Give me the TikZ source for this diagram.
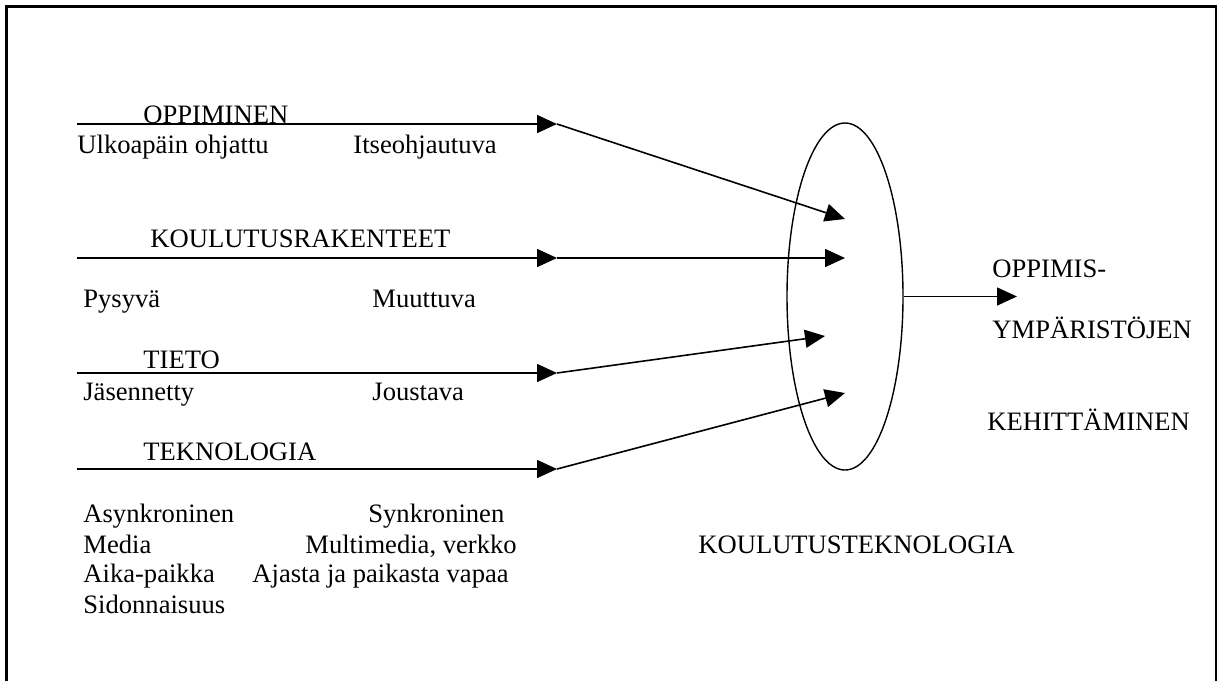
\documentclass[tikz,border=0pt]{standalone}
\usepackage{fontspec}
\setmainfont{Liberation Serif}
\usetikzlibrary{arrows.meta,shapes.geometric}
\begin{document}
\begin{tikzpicture}[x=0.5pt,y=-0.5pt,
  lbl/.style={anchor=base west,inner sep=0pt,font=\fontsize{13.3pt}{15pt}\selectfont},
  feed/.style={line width=0.8pt,-{Triangle[length=10pt,width=9pt]}},
  frameline/.style={line width=1.1pt}]
\useasboundingbox (0,0) rectangle (1220,681);
% open frame
\draw[frameline] (6.5,681) -- (6.5,6.5) -- (1216,6.5) -- (1216,681);

% central ellipse
\node[draw,ellipse,line width=0.7pt,minimum width=58pt,minimum height=173.5pt,inner sep=0pt] (kt) at (845,296.5) {};

% start and break points of the four input lines
\coordinate (s1) at (77,124);  \coordinate (m1) at (557,124);
\coordinate (s2) at (77,258);  \coordinate (m2) at (557,258);
\coordinate (s3) at (77,373);  \coordinate (m3) at (557,373);
\coordinate (s4) at (77,469);  \coordinate (m4) at (557,469);
% arrow targets inside the ellipse
\coordinate (t1) at (845,219);
\coordinate (t2) at (845,258);
\coordinate (t3) at (825,336);
\coordinate (t4) at (845,393);
\coordinate (out) at (1017,296.5);

% labels
\node[lbl] (oppiminen) at (143,123) {OPPIMINEN};
\node[lbl] (ulko) at (77,153) {Ulkoapäin ohjattu};
\node[lbl] (itse) at (353,153) {Itseohjautuva};
\node[lbl] (rak) at (150,247) {KOULUTUSRAKENTEET};
\node[lbl] (pys) at (83,307) {Pysyvä};
\node[lbl] (muu) at (372,307) {Muuttuva};
\node[lbl] (tieto) at (143,368) {TIETO};
\node[lbl] (jas) at (83,400) {Jäsennetty};
\node[lbl] (jou) at (372,400) {Joustava};
\node[lbl] (tek) at (143,460) {TEKNOLOGIA};
\node[lbl] (asy) at (83,522) {Asynkroninen};
\node[lbl] (syn) at (368,522) {Synkroninen};
\node[lbl] (med) at (83,553) {Media};
\node[lbl] (mul) at (305,553) {Multimedia, verkko};
\node[lbl] (aik) at (83,582) {Aika-paikka};
\node[lbl] (aja) at (252,582) {Ajasta ja paikasta vapaa};
\node[lbl] (sid) at (83,613) {Sidonnaisuus};
\node[lbl] (ktl) at (698,553) {KOULUTUSTEKNOLOGIA};
\node[lbl] (opp) at (992,277) {OPPIMIS-};
\node[lbl] (ymp) at (992,338) {YMPÄRISTÖJEN};
\node[lbl] (keh) at (987,430) {KEHITTÄMINEN};

% input arrows
\draw[feed] (s1) -- (m1);
\draw[feed] (m1) -- (t1);
\draw[feed] (s2) -- (m2);
\draw[feed] (m2) -- (t2);
\draw[feed] (s3) -- (m3);
\draw[feed] (m3) -- (t3);
\draw[feed] (s4) -- (m4);
\draw[feed] (m4) -- (t4);
% output arrow
\draw[feed] (kt.east) -- (out);
\end{tikzpicture}
\end{document}
